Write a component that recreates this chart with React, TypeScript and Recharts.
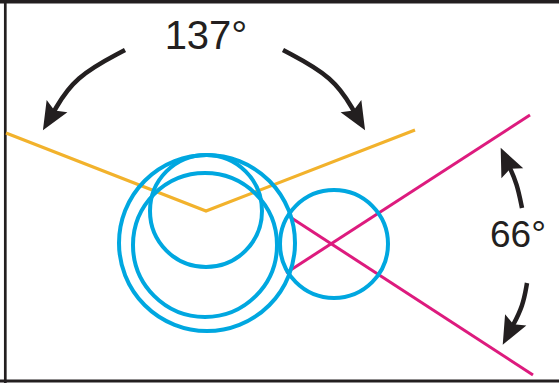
import React from 'react';
import { ComposedChart, XAxis, YAxis, Line, ReferenceDot, ReferenceLine } from 'recharts';

// Diagram coordinates (data space == 559 x 383 canvas units, y grows downward)
const circleCenterX = [207, 205, 206, 334];
const circleCenterY = [243, 245, 211, 244];
const circleRadius = [88, 72, 56, 54];

const orangeLine = [
  { x: 6, y: 133 },
  { x: 206, y: 211 },
  { x: 415, y: 130 },
];
const magentaLineA = [
  { x: 290, y: 217 },
  { x: 533, y: 375 },
];
const magentaLineB = [
  { x: 286, y: 273 },
  { x: 530, y: 115 },
];

const arrow137Left = [
  { x: 125, y: 50 },
  { x: 74, y: 77 },
  { x: 53, y: 113 },
];
const arrow137Right = [
  { x: 283, y: 50 },
  { x: 334, y: 77 },
  { x: 355, y: 113 },
];
const arrow66Up = [
  { x: 522, y: 208 },
  { x: 517, y: 183.5 },
  { x: 509, y: 166 },
];
const arrow66Down = [
  { x: 527, y: 283 },
  { x: 523, y: 306 },
  { x: 512, y: 327 },
];

const labelText = ['137°', '66°'];
const labelX = [206, 518];
const labelY = [34.5, 233.5];

const W = 559;
const H = 383;
const INK = '#231f20';
const BLUE = '#00a7e0';
const ORANGE = '#f2b22c';
const MAGENTA = '#dd1b7e';

export default function App() {
  const arrows = [arrow137Left, arrow137Right, arrow66Up, arrow66Down];
  const labelSizes = [40, 37];
  return (
    <div style={{ position: 'absolute', left: 0, top: 0, width: W, height: H, background: '#fff' }}>
      <ComposedChart width={W} height={H} margin={{ top: 0, right: 0, bottom: 0, left: 0 }}>
        <defs>
          <marker
            id="arrowHead"
            viewBox="-10 -15 35 30"
            refX="0"
            refY="0"
            markerWidth="35"
            markerHeight="30"
            markerUnits="userSpaceOnUse"
            orient="auto"
          >
            <path d="M20,0 L-8,-12 L-3,0 L-8,12 Z" fill={INK} />
          </marker>
        </defs>
        <XAxis type="number" dataKey="x" domain={[0, W]} allowDataOverflow hide />
        <YAxis type="number" dataKey="y" domain={[0, H]} allowDataOverflow reversed hide />

        <ReferenceLine y={1.75} stroke={INK} strokeWidth={3.5} />
        <ReferenceLine x={5.3} stroke={INK} strokeWidth={2.7} />
        <ReferenceLine y={381} stroke={INK} strokeWidth={3} />

        {circleRadius.map((r, i) => (
          <ReferenceDot
            key={'c' + i}
            x={circleCenterX[i]}
            y={circleCenterY[i]}
            r={r}
            fill="none"
            stroke={BLUE}
            strokeWidth={4}
            ifOverflow="visible"
          />
        ))}

        <Line data={orangeLine} dataKey="y" type="linear" stroke={ORANGE} strokeWidth={3.2} dot={false} activeDot={false} isAnimationActive={false} />
        <Line data={magentaLineA} dataKey="y" type="linear" stroke={MAGENTA} strokeWidth={3} dot={false} activeDot={false} isAnimationActive={false} />
        <Line data={magentaLineB} dataKey="y" type="linear" stroke={MAGENTA} strokeWidth={3} dot={false} activeDot={false} isAnimationActive={false} />

        {arrows.map((a, i) => (
          <Line
            key={'a' + i}
            data={a}
            dataKey="y"
            type="basis"
            stroke={INK}
            strokeWidth={4.5}
            dot={false}
            activeDot={false}
            isAnimationActive={false}
            markerEnd="url(#arrowHead)"
          />
        ))}

        {labelText.map((t, i) => (
          <ReferenceDot
            key={'l' + i}
            x={labelX[i]}
            y={labelY[i]}
            r={0}
            fill="none"
            stroke="none"
            ifOverflow="visible"
            label={{
              value: t,
              position: 'center',
              fontSize: labelSizes[i],
              fill: INK,
              fontFamily: 'Liberation Sans, Arial, sans-serif',
            }}
          />
        ))}
      </ComposedChart>
    </div>
  );
}
